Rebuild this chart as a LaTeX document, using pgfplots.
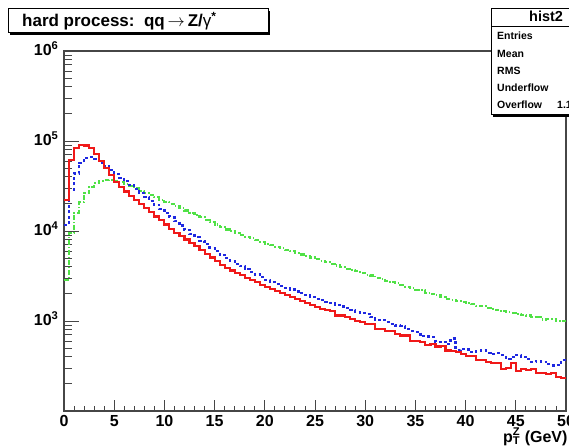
\documentclass[border=0pt]{standalone}
\usepackage{fontspec}
\setmainfont{Liberation Sans}
\usepackage{pgfplots}
\usepackage{pgfplotstable}
\pgfplotsset{compat=1.18}
\definecolor{rootred}{RGB}{240,25,25}
\definecolor{rootblue}{RGB}{30,40,225}
\definecolor{rootgreen}{RGB}{80,225,70}
\definecolor{framegray}{RGB}{70,70,70}
\pgfplotstableread{
x r b g
0 21900 11700 2880
0.5 61700 28800 9550
1 83200 43600 15800
1.5 90200 57500 20900
2 89100 64600 26300
2.5 83200 66100 30900
3 72400 63100 33900
3.5 60300 57500 35600
4 50500 52200 36500
4.5 42300 47400 36700
5 35400 43100 36100
5.5 30700 39200 34700
6 27500 35600 33100
6.5 24700 32200 31500
7 22200 29200 29700
7.5 20000 26400 28000
8 17900 23900 26500
8.5 16100 21600 25000
9 14500 19600 23600
9.5 13100 17600 22300
10 11800 15800 21000
10.5 10600 14200 19900
11 9600 12800 18800
11.5 8760 11500 17900
12 8040 10300 16900
12.5 7370 9340 15900
13 6760 8530 15000
13.5 6150 7800 14200
14 5580 7130 13400
14.5 5070 6510 12600
15 4600 5940 11800
15.5 4180 5430 11100
16 3860 4980 10400
16.5 3640 4650 9950
17 3430 4340 9510
17.5 3220 4050 9080
18 3030 3780 8670
18.5 2860 3520 8280
19 2690 3290 7910
19.5 2530 3070 7550
20 2390 2870 7210
20.5 2260 2730 6930
21 2150 2600 6670
21.5 2040 2470 6410
22 1940 2350 6170
22.5 1840 2240 5930
23 1740 2130 5700
23.5 1660 2030 5480
24 1570 1930 5270
24.5 1490 1840 5070
25 1430 1770 4860
25.5 1370 1700 4680
26 1310 1630 4490
26.5 1300 1570 4320
27 1150 1500 4140
27.5 1150 1450 3980
28 1100 1390 3820
28.5 1060 1330 3670
29 1010 1270 3600
29.5 970 1220 3400
30 930 1200 3270
30.5 920 1110 3200
31 820 1020 3020
31.5 820 1020 2900
32 780 970 2790
32.5 780 930 2690
33 720 890 2620
33.5 690 880 2490
34 690 810 2400
34.5 600 780 2310
35 605 760 2230
35.5 583 680 2200
36 540 671 2070
36.5 560 660 2000
37 521 590 1930
37.5 530 580 1860
38 470 552 1750
38.5 466 640 1730
39 448 480 1670
39.5 430 492 1620
40 413 482 1580
40.5 410 450 1530
41 370 462 1480
41.5 366 470 1460
42 352 444 1400
42.5 338 434 1360
43 340 440 1320
43.5 290 417 1280
44 300 380 1250
44.5 340 400 1240
45 280 420 1190
45.5 292 400 1170
46 285 376 1150
46.5 290 350 1120
47 265 361 1100
47.5 266 353 1040
48 260 330 1050
48.5 262 320 1060
49 240 325 1010
49.5 232 370 990
50 232 370 990
}\hist
\begin{document}
\begin{tikzpicture}
\begin{axis}[
  at={(64pt,36pt)}, anchor=south west,
  scale only axis, width=502pt, height=360pt,
  ymode=log, xmin=0, xmax=50, ymin=100, ymax=1000000,
  axis line style={framegray, line width=1.2pt},
  tick pos=left, tick align=inside,
  tick style={framegray, line width=0.9pt},
  xtick={0,5,...,50}, minor x tick num=4,
  xtick style={/pgfplots/major tick length=11pt,/pgfplots/minor tick length=5pt},
  ytick style={/pgfplots/major tick length=15pt,/pgfplots/minor tick length=8pt},
  ytick={100,1000,10000,100000,1000000},
  yticklabels={,{10\textsuperscript{3}},{10\textsuperscript{4}},{10\textsuperscript{5}},{10\textsuperscript{6}}},
  /pgf/number format/assume math mode=true,
  ticklabel style={font=\bfseries\fontsize{16}{16}\selectfont},
  xticklabel style={yshift=-1pt},
  yticklabel style={xshift=-2pt, yshift=2pt},
  every axis plot/.append style={const plot mark left, no marks},
]
\addplot[rootgreen, line width=2.1pt, dash pattern=on 4.5pt off 2pt on 1.5pt off 2pt] table[x=x,y=g]{\hist};
\addplot[rootblue, line width=2.2pt, dash pattern=on 3pt off 2.5pt] table[x=x,y=b]{\hist};
\addplot[rootred, line width=2.1pt] table[x=x,y=r]{\hist};
\end{axis}
% title box
\fill[black] (10pt,412pt) rectangle (270pt,436pt);
\draw[black, line width=1pt, fill=white] (8pt,414pt) rectangle (268pt,438pt);
\node[anchor=base west, inner sep=0pt, font=\bfseries\fontsize{17}{17}\selectfont] at (22pt,420pt)
  {hard process:\ \ qq\,{\mdseries$\rightarrow$}\,Z/{\mdseries γ}\textsuperscript{*}};
% stats box
\fill[black] (493pt,330pt) rectangle (610pt,436pt);
\draw[black, line width=1pt, fill=white] (491pt,332pt) rectangle (608pt,438pt);
\draw[black, line width=0.8pt] (491pt,420.5pt) -- (608pt,420.5pt);
\node[anchor=base west, inner sep=0pt, font=\bfseries\fontsize{14.5}{14.5}\selectfont] at (529pt,425pt) {hist2};
\begin{scope}[every node/.style={anchor=base west, inner sep=0pt, font=\bfseries\fontsize{10.5}{10.5}\selectfont}]
\node at (497pt,407pt) {Entries};
\node at (497pt,389.5pt) {Mean};
\node at (497pt,372pt) {RMS};
\node at (497pt,355pt) {Underflow};
\node at (497pt,338pt) {Overflow};
\node at (557pt,338pt) {1.1};
\end{scope}
% x label
\node[anchor=base west, inner sep=0pt, font=\bfseries\fontsize{16}{16}\selectfont] at (503pt,5pt)
  {p\rlap{\textsubscript{T}}\textsuperscript{Z} (GeV)};
\pgfresetboundingbox
\useasboundingbox (0pt,0pt) rectangle (569pt,447pt);
\end{tikzpicture}
\end{document}
